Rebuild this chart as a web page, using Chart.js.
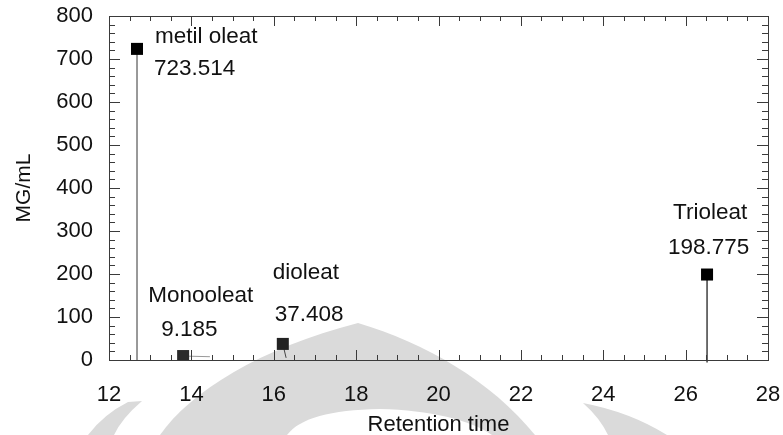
<!DOCTYPE html>
<html>
<head>
<meta charset="utf-8">
<script src="https://cdn.jsdelivr.net/npm/chart.js@4"></script>
<style>
  html, body { margin: 0; padding: 0; background: #fff; }
  #wrap { width: 783px; height: 435px; position: relative; }
</style>
</head>
<body>
<div id="wrap"><canvas id="c" width="783" height="435"></canvas></div>
<script>
// ---- data ----
const peakNames = ['metil oleat', 'Monooleat', 'dioleat', 'Trioleat'];
const retentionTimes = [12.68, 13.80, 16.22, 26.52];
const concentrations = [723.514, 9.185, 37.408, 198.775];
const stemPeaks = [0, 3];            // peaks drawn with a drop line to the baseline
const xTickValues = [12, 14, 16, 18, 20, 22, 24, 26, 28];
const yTickValues = [0, 100, 200, 300, 400, 500, 600, 700, 800];

// label placement (pixel offsets from each point), styling only
const labelOffsets = [
  { nx: 18, ny: -12, vx: 17, vy: 20 },
  { nx: -35, ny: -60, vx: -22, vy: -26 },
  { nx: -10, ny: -71, vx: -8, vy: -29 },
  { nx: -34, ny: -62, vx: -39, vy: -27 }
];

const FONT = "'Liberation Sans', Arial, sans-serif";
const AXIS_COLOR = '#3a3a3a';

const datasets = [];
stemPeaks.forEach(i => {
  datasets.push({
    type: 'line',
    data: [{ x: retentionTimes[i], y: concentrations[i] }, { x: retentionTimes[i], y: i === 0 ? 0 : -6 }],
    borderColor: i === 0 ? '#808080' : '#111',
    borderWidth: i === 0 ? 1.6 : 1.2,
    pointRadius: 0,
    showLine: true,
    clip: false,
    order: 2
  });
});
// small tail of the Monooleat peak and drop of the dioleat peak
datasets.push({
  type: 'line',
  data: [{ x: retentionTimes[1], y: concentrations[1] }, { x: retentionTimes[1] + 0.65, y: concentrations[1] - 1.5 }],
  borderColor: '#9a9a9a', borderWidth: 1, pointRadius: 0, showLine: true, order: 2
});
datasets.push({
  type: 'line',
  data: [{ x: retentionTimes[2], y: concentrations[2] }, { x: retentionTimes[2] + 0.08, y: 5 }],
  borderColor: '#444', borderWidth: 1, pointRadius: 0, showLine: true, order: 2
});
datasets.push({
  type: 'scatter',
  data: retentionTimes.map((t, i) => ({ x: t, y: concentrations[i] })),
  pointStyle: 'rect',
  pointRadius: 8.5,
  pointHoverRadius: 8.5,
  backgroundColor: ['#000', '#2a2a2a', '#222', '#000'],
  borderColor: ['#000', '#2a2a2a', '#222', '#000'],
  borderWidth: 0,
  order: 1
});

const watermark = {
  id: 'watermark',
  beforeDraw(chart) {
    const ctx = chart.ctx;
    ctx.save();
    ctx.fillStyle = '#fff';
    ctx.fillRect(0, 0, chart.width, chart.height);
    ctx.fillStyle = '#dadada';
    // left band
    ctx.beginPath();
    ctx.moveTo(128, 402); ctx.lineTo(142, 401);
    ctx.quadraticCurveTo(122, 418, 114, 435);
    ctx.lineTo(88, 435);
    ctx.quadraticCurveTo(104, 414, 128, 402);
    ctx.fill();
    // dome
    ctx.beginPath();
    ctx.moveTo(160, 435);
    ctx.bezierCurveTo(190, 392, 260, 348, 358, 323);
    ctx.bezierCurveTo(425, 343, 490, 380, 535, 435);
    ctx.closePath();
    ctx.fill();
    // right piece
    ctx.beginPath();
    ctx.moveTo(583, 403);
    ctx.quadraticCurveTo(630, 412, 667, 435);
    ctx.lineTo(608, 435);
    ctx.quadraticCurveTo(600, 418, 583, 403);
    ctx.fill();
    // white inner arch
    ctx.fillStyle = '#fff';
    ctx.beginPath();
    ctx.moveTo(287, 435);
    ctx.bezierCurveTo(300, 418, 330, 410, 380, 409);
    ctx.bezierCurveTo(430, 410, 470, 420, 492, 435);
    ctx.closePath();
    ctx.fill();
    ctx.restore();
  }
};

const frameTicks = {
  id: 'frameTicks',
  afterDatasetsDraw(chart) {
    const { ctx, chartArea: a, scales: { x, y } } = chart;
    ctx.save();
    ctx.strokeStyle = AXIS_COLOR;
    ctx.lineWidth = 1;
    ctx.beginPath();
    ctx.rect(Math.round(a.left) + 0.5, Math.round(a.top) + 0.5, Math.round(a.right - a.left), Math.round(a.bottom - a.top));
    ctx.stroke();
    ctx.beginPath();
    for (let v = x.min; v <= x.max + 1e-9; v += 0.5) {
      const px = Math.round(x.getPixelForValue(v)) + 0.5;
      const major = Math.abs(v % 2) < 1e-9;
      const len = major ? 10 : 5;
      ctx.moveTo(px, a.bottom); ctx.lineTo(px, a.bottom - len);
      ctx.moveTo(px, a.top); ctx.lineTo(px, a.top + len);
    }
    for (let v = y.min; v <= y.max + 1e-9; v += 20) {
      const py = Math.round(y.getPixelForValue(v)) + 0.5;
      const major = Math.abs(v % 100) < 1e-9;
      const len = major ? 11 : 6;
      ctx.moveTo(a.left, py); ctx.lineTo(a.left + len, py);
      ctx.moveTo(a.right, py); ctx.lineTo(a.right - len, py);
    }
    ctx.stroke();
    ctx.restore();
  }
};

const peakLabels = {
  id: 'peakLabels',
  afterDraw(chart) {
    const { ctx, scales: { x, y } } = chart;
    ctx.save();
    ctx.fillStyle = '#111';
    ctx.font = '22.5px ' + FONT;
    ctx.textAlign = 'left';
    ctx.textBaseline = 'middle';
    peakNames.forEach((name, i) => {
      const px = x.getPixelForValue(retentionTimes[i]);
      const py = y.getPixelForValue(concentrations[i]);
      const o = labelOffsets[i];
      ctx.fillText(name, px + o.nx, py + o.ny);
      ctx.fillText(concentrations[i].toFixed(3), px + o.vx, py + o.vy);
    });
    ctx.restore();
  }
};

new Chart(document.getElementById('c'), {
  type: 'scatter',
  data: { datasets },
  options: {
    responsive: false,
    animation: false,
    devicePixelRatio: 1,
    layout: { padding: { top: 16, right: 15, left: 0, bottom: 0 } },
    plugins: { legend: { display: false }, tooltip: { enabled: false } },
    scales: {
      x: {
        type: 'linear',
        min: 12, max: 28,
        afterBuildTicks: s => { s.ticks = xTickValues.map(v => ({ value: v })); },
        afterFit: s => { s.height = 75; s.paddingLeft = 0; s.paddingRight = 0; },
        grid: { display: false, drawTicks: false },
        border: { display: true, color: AXIS_COLOR },
        ticks: { font: { family: FONT, size: 22 }, color: '#111', padding: 22, maxRotation: 0 },
        title: { display: true, text: 'Retention time', font: { family: FONT, size: 22 }, color: '#111', padding: { top: 6, bottom: -3 } }
      },
      y: {
        type: 'linear',
        min: 0, max: 800,
        afterBuildTicks: s => { s.ticks = yTickValues.map(v => ({ value: v })); },
        afterFit: s => { s.width = 109; s.paddingTop = 0; s.paddingBottom = 0; },
        grid: { display: false, drawTicks: false },
        border: { display: true, color: AXIS_COLOR },
        ticks: { font: { family: FONT, size: 22 }, color: '#111', padding: 16 },
        title: { display: true, text: 'MG/mL', font: { family: FONT, size: 21 }, color: '#111', padding: { top: 12, bottom: 0 } }
      }
    }
  },
  plugins: [watermark, frameTicks, peakLabels]
});
</script>
</body>
</html>
